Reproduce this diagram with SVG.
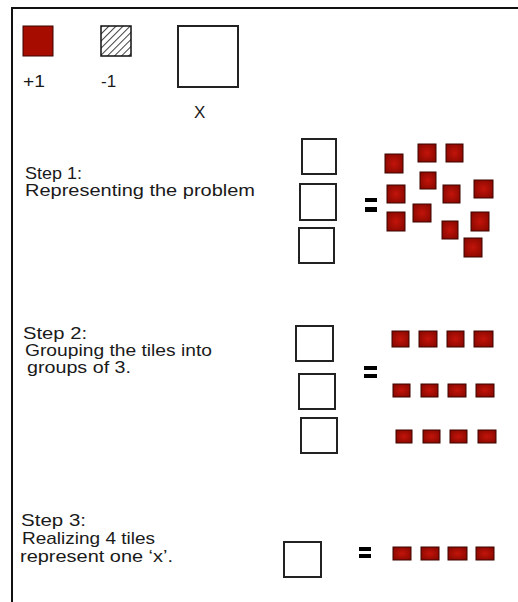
<svg xmlns="http://www.w3.org/2000/svg" width="518" height="602" viewBox="0 0 518 602">
  <defs>
    <radialGradient id="redg" cx="50%" cy="50%" r="60%">
      <stop offset="0" stop-color="#c2140a"/>
      <stop offset="1" stop-color="#8a0800"/>
    </radialGradient>
    <pattern id="hatch" patternUnits="userSpaceOnUse" width="5" height="5" patternTransform="rotate(45)">
      <rect width="5" height="5" fill="#fff"/>
      <line x1="0" y1="0" x2="0" y2="5" stroke="#111" stroke-width="1.6"/>
    </pattern>
  </defs>
  <style>
    .t { font-family: "Liberation Sans", Arial, sans-serif; font-size: 17px; fill: #1a1a1a; }
    .lbl { font-family: "Liberation Sans", Arial, sans-serif; font-size: 17px; fill: #1a1a1a; }
    .x { fill: #fff; stroke: #222; stroke-width: 2; }
    .r { fill: url(#redg); stroke: #3a0500; stroke-width: 1; }
    .eq { fill: #000; }
  </style>
  <rect width="518" height="602" fill="#fff"/>
  <g id="frame">
    <line x1="12" y1="8" x2="518" y2="8" stroke="#111" stroke-width="2"/>
    <line x1="12" y1="7" x2="12" y2="602" stroke="#111" stroke-width="2"/>
  </g>

  <g id="legend">
    <g id="legend-plus1">
      <rect x="23" y="26" width="30" height="30" fill="#a60c00" stroke="#3a0500" stroke-width="1"/>
      <text class="lbl" x="23" y="87" textLength="22" lengthAdjust="spacingAndGlyphs">+1</text>
    </g>
    <g id="legend-minus1">
      <rect x="101" y="26" width="30" height="30" fill="url(#hatch)" stroke="#111" stroke-width="1.5"/>
      <text class="lbl" x="101" y="87">-1</text>
    </g>
    <g id="legend-x">
      <rect class="x" x="178" y="26" width="60" height="61"/>
      <text class="lbl" x="194" y="118">X</text>
    </g>
  </g>

  <g id="step1">
    <g id="step1-label">
      <text class="t" x="25" y="179" textLength="57" lengthAdjust="spacingAndGlyphs">Step 1:</text>
      <text class="t" x="25" y="196" textLength="230" lengthAdjust="spacingAndGlyphs">Representing the problem</text>
    </g>
    <g id="step1-x">
      <rect class="x" x="302" y="139" width="34" height="35"/>
      <rect class="x" x="300" y="184" width="36" height="36"/>
      <rect class="x" x="299" y="228" width="35" height="35"/>
    </g>
    <g id="step1-eq">
      <rect class="eq" x="365" y="198" width="12" height="4"/>
      <rect class="eq" x="365" y="207" width="12" height="5"/>
    </g>
    <g id="step1-tiles">
      <rect class="r" x="385" y="154" width="18" height="19"/>
      <rect class="r" x="418" y="144" width="18" height="18"/>
      <rect class="r" x="446" y="144" width="17" height="18"/>
      <rect class="r" x="420" y="172" width="16" height="17"/>
      <rect class="r" x="387" y="185" width="18" height="18"/>
      <rect class="r" x="443" y="185" width="17" height="18"/>
      <rect class="r" x="474" y="180" width="19" height="18"/>
      <rect class="r" x="413" y="204" width="18" height="18"/>
      <rect class="r" x="387" y="212" width="18" height="19"/>
      <rect class="r" x="442" y="221" width="16" height="18"/>
      <rect class="r" x="471" y="212" width="18" height="19"/>
      <rect class="r" x="464" y="238" width="18" height="19"/>
    </g>
  </g>

  <g id="step2">
    <g id="step2-label">
      <text class="t" x="23" y="339" textLength="64" lengthAdjust="spacingAndGlyphs">Step 2:</text>
      <text class="t" x="25" y="356" textLength="187" lengthAdjust="spacingAndGlyphs">Grouping the tiles into</text>
      <text class="t" x="27" y="373" textLength="104" lengthAdjust="spacingAndGlyphs">groups of 3.</text>
    </g>
    <g id="step2-x">
      <rect class="x" x="296" y="326" width="37" height="35"/>
      <rect class="x" x="299" y="374" width="36" height="35"/>
      <rect class="x" x="301" y="418" width="36" height="35"/>
    </g>
    <g id="step2-eq">
      <rect class="eq" x="364" y="366" width="13" height="4"/>
      <rect class="eq" x="364" y="374" width="13" height="4"/>
    </g>
    <g id="step2-tiles">
      <rect class="r" x="392" y="331" width="17" height="16"/>
      <rect class="r" x="419" y="331" width="18" height="16"/>
      <rect class="r" x="447" y="331" width="17" height="16"/>
      <rect class="r" x="474" y="331" width="19" height="16"/>
      <rect class="r" x="393" y="384" width="17" height="13"/>
      <rect class="r" x="421" y="384" width="17" height="13"/>
      <rect class="r" x="448" y="384" width="18" height="13"/>
      <rect class="r" x="476" y="384" width="18" height="13"/>
      <rect class="r" x="396" y="430" width="16" height="13"/>
      <rect class="r" x="423" y="430" width="17" height="13"/>
      <rect class="r" x="450" y="430" width="17" height="13"/>
      <rect class="r" x="478" y="430" width="18" height="13"/>
    </g>
  </g>

  <g id="step3">
    <g id="step3-label">
      <text class="t" x="21" y="526" textLength="65" lengthAdjust="spacingAndGlyphs">Step 3:</text>
      <text class="t" x="22" y="544" textLength="133" lengthAdjust="spacingAndGlyphs">Realizing 4 tiles</text>
      <text class="t" x="20" y="562" textLength="153" lengthAdjust="spacingAndGlyphs">represent one ‘x’.</text>
    </g>
    <g id="step3-x">
      <rect class="x" x="284" y="542" width="37" height="35"/>
    </g>
    <g id="step3-eq">
      <rect class="eq" x="359" y="547" width="12" height="4"/>
      <rect class="eq" x="359" y="554" width="12" height="4"/>
    </g>
    <g id="step3-tiles">
      <rect class="r" x="393" y="547" width="18" height="13"/>
      <rect class="r" x="421" y="547" width="18" height="13"/>
      <rect class="r" x="448" y="547" width="19" height="13"/>
      <rect class="r" x="476" y="547" width="18" height="13"/>
    </g>
  </g>
</svg>
